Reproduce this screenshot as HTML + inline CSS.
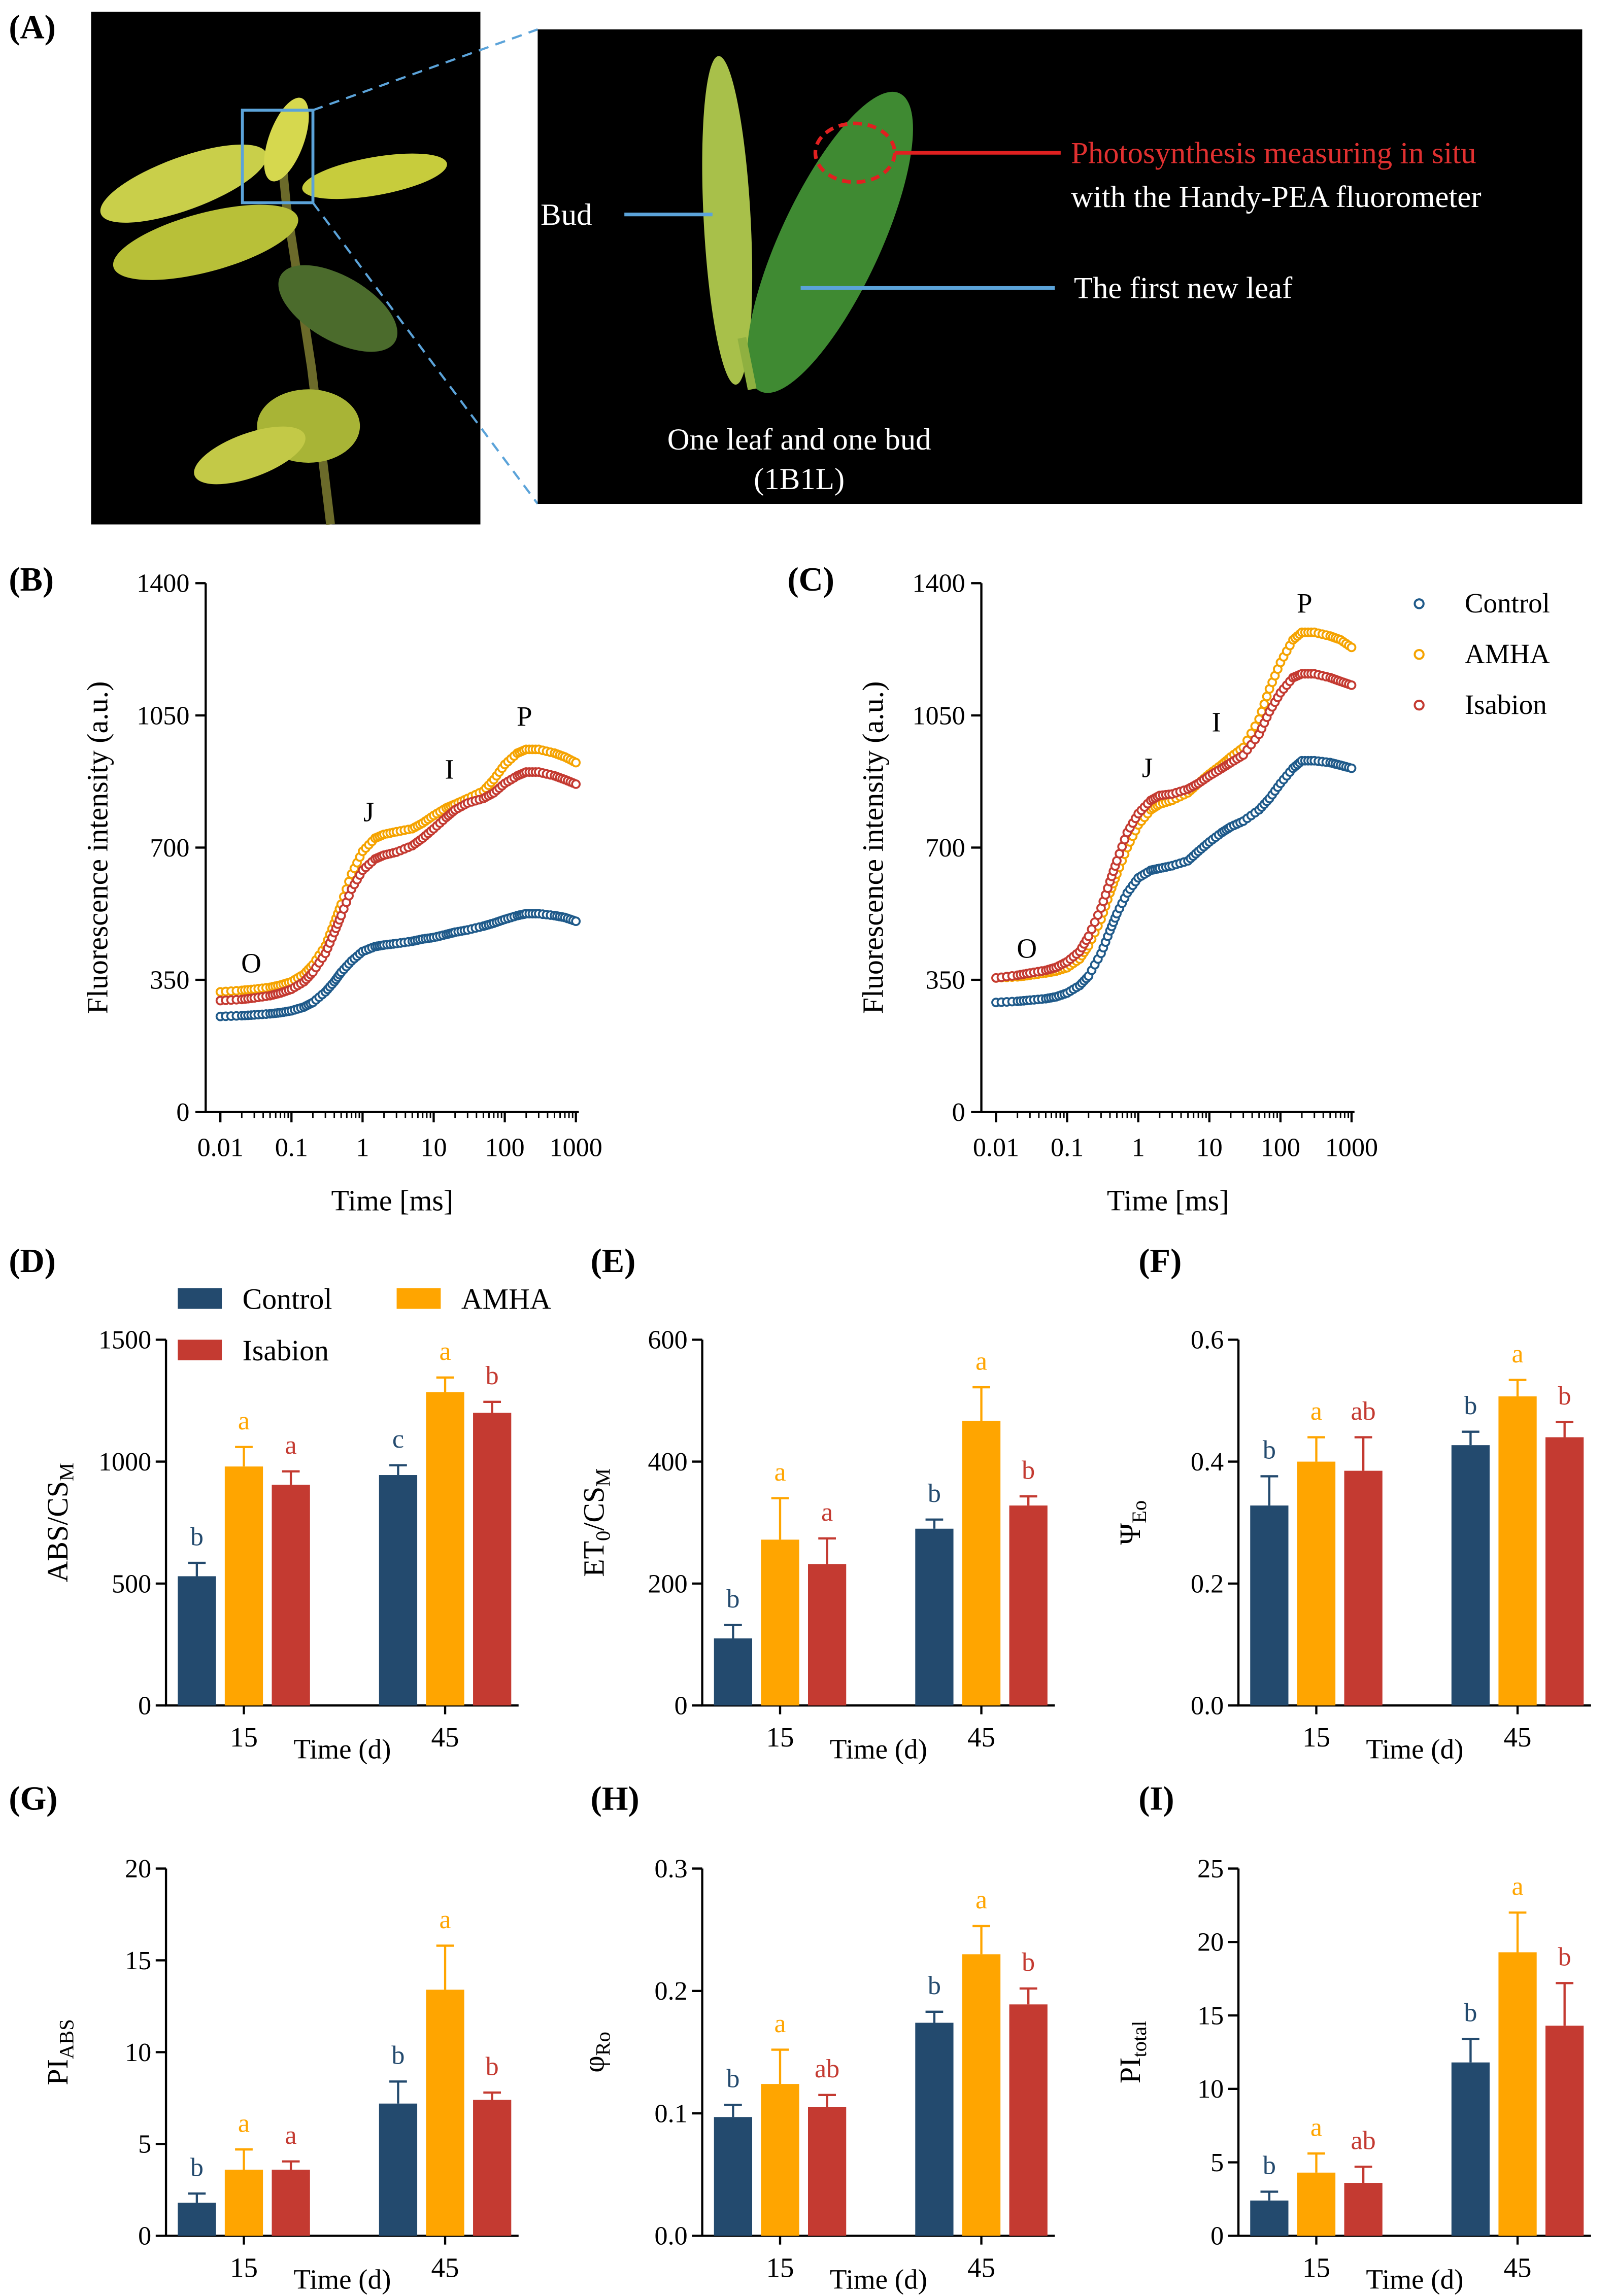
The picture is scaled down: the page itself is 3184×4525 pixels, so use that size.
<!DOCTYPE html>
<html><head><meta charset="utf-8"><style>
html,body{margin:0;padding:0;background:#fff}
svg{display:block;font-family:"Liberation Serif",serif}
</style></head><body>
<svg id="fig" width="3184" height="4525" viewBox="0 0 1100 1563" preserveAspectRatio="none" xmlns="http://www.w3.org/2000/svg">
<g id="panelA">
  <rect x="62" y="8" width="265" height="349" fill="#000"/>
  <g>
    <path d="M225 357 L212 250 L195 140 L190 90" stroke="#6b6a2a" stroke-width="6" fill="none"/>
    <ellipse cx="125" cy="125" rx="60" ry="18" fill="#c9cf4a" transform="rotate(-20 125 125)"/>
    <ellipse cx="255" cy="120" rx="50" ry="13" fill="#c7cc3c" transform="rotate(-10 255 120)"/>
    <ellipse cx="140" cy="165" rx="65" ry="20" fill="#b8c038" transform="rotate(-15 140 165)"/>
    <ellipse cx="195" cy="95" rx="12" ry="30" fill="#d6d84e" transform="rotate(20 195 95)"/>
    <ellipse cx="230" cy="210" rx="45" ry="22" fill="#4b6b2c" transform="rotate(30 230 210)"/>
    <ellipse cx="210" cy="290" rx="35" ry="25" fill="#a8b436"/>
    <ellipse cx="170" cy="310" rx="40" ry="15" fill="#c3c947" transform="rotate(-20 170 310)"/>
  </g>
  <rect x="165" y="75" width="48" height="63" fill="none" stroke="#5ba3d9" stroke-width="2"/>
  <line x1="213" y1="75" x2="366" y2="20" stroke="#5ba3d9" stroke-width="1.5" stroke-dasharray="7,5"/>
  <line x1="213" y1="138" x2="366" y2="343" stroke="#5ba3d9" stroke-width="1.5" stroke-dasharray="7,5"/>
  <rect x="366" y="20" width="711" height="323" fill="#000"/>
  <ellipse cx="495" cy="150" rx="16" ry="112" fill="#a8c04a" transform="rotate(-3 495 150)"/>
  <ellipse cx="565" cy="165" rx="34" ry="112" fill="#3f8a32" transform="rotate(25 565 165)"/>
  <line x1="512" y1="265" x2="505" y2="230" stroke="#8fb040" stroke-width="6"/>
  <ellipse cx="582" cy="104" rx="27" ry="20" fill="none" stroke="#e02020" stroke-width="2.5" stroke-dasharray="6,4"/>
  <line x1="609" y1="104" x2="722" y2="104" stroke="#e02020" stroke-width="2.5"/>
  <line x1="425" y1="146" x2="485" y2="146" stroke="#5ba3d9" stroke-width="2.5"/>
  <line x1="545" y1="196" x2="718" y2="196" stroke="#5ba3d9" stroke-width="2.5"/>
  <text x="368" y="153" fill="#fff" font-size="21">Bud</text>
  <text x="729" y="111" fill="#e03030" font-size="21">Photosynthesis measuring in situ</text>
  <text x="729" y="141" fill="#fff" font-size="21">with the Handy-PEA fluorometer</text>
  <text x="731" y="203" fill="#fff" font-size="21">The first new leaf</text>
  <text x="544" y="306" fill="#fff" font-size="21" text-anchor="middle">One leaf and one bud</text>
  <text x="544" y="333" fill="#fff" font-size="21" text-anchor="middle">(1B1L)</text>
</g>
<g id="labels" font-weight="bold" font-size="23">
  <text x="6" y="26">(A)</text>
  <text x="6" y="402">(B)</text>
  <text x="536" y="402">(C)</text>
  <text x="6" y="866">(D)</text>
  <text x="402" y="866">(E)</text>
  <text x="775" y="866">(F)</text>
  <text x="6" y="1232">(G)</text>
  <text x="402" y="1232">(H)</text>
  <text x="775" y="1232">(I)</text>
</g>
<g id="charts"></g>
</svg>
<script>
const times=[0.01,0.02,0.03,0.05,0.07,0.1,0.15,0.2,0.3,0.4,0.5,0.7,1,1.5,2,3,5,7,10,15,20,30,50,70,100,150,200,300,500,700,1000];
const bControl=[253,255,257,260,263,268,278,290,318,345,370,400,425,438,442,446,452,458,462,470,476,482,492,500,510,520,525,525,520,515,505];
const bAMHA=[318,322,325,330,336,345,365,390,440,500,550,630,690,725,735,742,750,765,785,805,815,830,850,880,920,950,960,960,950,940,925];
const bIsabion=[295,298,302,308,315,325,345,370,420,475,520,590,640,670,680,688,705,725,750,780,800,818,830,845,870,890,900,900,890,880,868];
const cControl=[290,293,296,300,305,315,335,360,420,480,525,580,620,640,645,652,665,690,715,740,755,770,800,830,870,910,930,930,925,918,910];
const cAMHA=[355,358,362,368,373,382,405,440,510,580,630,700,760,800,815,825,845,870,895,920,940,965,1040,1120,1190,1250,1270,1270,1260,1250,1230];
const cIsabion=[355,362,368,375,383,398,425,465,540,610,665,740,790,825,838,842,855,870,890,910,925,945,1000,1060,1110,1150,1160,1160,1150,1140,1130];
const lineYTicks=[0,350,700,1050,1400];
const lineXTicks=[0.01,0.1,1,10,100,1000];
const lineXTickLabels=["0.01","0.1","1","10","100","1000"];
const groups=["15","45"];
const seriesNames=["Control","AMHA","Isabion"];
const colors=["#234a6e","#ffa500","#c43a31"];
const lineColors=["#1f5a8a","#f5a300","#c43a31"];
const dVals=[[530,980,905],[945,1285,1200]], dErr=[[55,80,55],[40,60,45]], dLet=[["b","a","a"],["c","a","b"]], dTicks=[0,500,1000,1500];
const eVals=[[110,272,232],[290,467,328]], eErr=[[22,68,42],[15,55,15]], eLet=[["b","a","a"],["b","a","b"]], eTicks=[0,200,400,600];
const fVals=[[0.328,0.400,0.385],[0.427,0.507,0.440]], fErr=[[0.048,0.04,0.055],[0.022,0.027,0.025]], fLet=[["b","a","ab"],["b","a","b"]], fTicks=[0,0.2,0.4,0.6];
const gVals=[[1.8,3.6,3.6],[7.2,13.4,7.4]], gErr=[[0.5,1.1,0.45],[1.2,2.4,0.4]], gLet=[["b","a","a"],["b","a","b"]], gTicks=[0,5,10,15,20];
const hVals=[[0.097,0.124,0.105],[0.174,0.230,0.189]], hErr=[[0.01,0.028,0.01],[0.009,0.023,0.013]], hLet=[["b","a","ab"],["b","a","b"]], hTicks=[0,0.1,0.2,0.3];
const iVals=[[2.4,4.3,3.6],[11.8,19.3,14.3]], iErr=[[0.6,1.3,1.1],[1.6,2.7,2.9]], iLet=[["b","a","ab"],["b","a","b"]], iTicks=[0,5,10,15,20,25];

const NS="http://www.w3.org/2000/svg";
const root=document.getElementById('charts');
function mk(tag,attrs,parent,text){const e=document.createElementNS(NS,tag);for(const k in attrs)e.setAttribute(k,attrs[k]);if(text!==undefined)e.textContent=text;(parent||root).appendChild(e);return e;}

function lineChart(x0,series,name){
  const g=mk('g',{});
  
  
  const Y0=757,H=360,ymax=1400;
  const xs=t=>x0+10+(Math.log10(t)+2)*48.4;
  const ys=v=>Y0-v/ymax*H;
  const ax=mk('path',{d:`M${x0} ${Y0-H} V${Y0} H${x0+254}`,stroke:'#000','stroke-width':1.5,fill:'none'},g);
  
  
  lineYTicks.forEach(v=>{mk('line',{x1:x0-7,x2:x0,y1:ys(v),y2:ys(v),stroke:'#000','stroke-width':1.5},g);
    const t=mk('text',{x:x0-11,y:ys(v)+6,'font-size':18,'text-anchor':'end'},g,String(v));
    
    });
  lineXTicks.forEach((v,i)=>{mk('line',{x1:xs(v),x2:xs(v),y1:Y0,y2:Y0+7,stroke:'#000','stroke-width':1.5},g);
    for(let k=2;k<10&&v<1000;k++){const xx=xs(v*k);mk('line',{x1:xx,x2:xx,y1:Y0,y2:Y0+4,stroke:'#000','stroke-width':1},g);}
    const t=mk('text',{x:xs(v),y:Y0+30,'font-size':18,'text-anchor':'middle'},g,lineXTickLabels[i]);
    
    });
  series.forEach((s,si)=>{
    const sg=mk('g',{},g);
    
    
    s.forEach((v,i)=>{
      const c=mk('circle',{cx:xs(times[i]),cy:ys(v),r:2.6,fill:'#fff',stroke:lineColors[si],'stroke-width':1.3},sg);
      
      
      if(i<times.length-1){ // extra markers between points along straight segment for visual density
        const n=4;for(let k=1;k<n;k++){const f=k/n;const lt=Math.log10(times[i])*(1-f)+Math.log10(times[i+1])*f;const vv=v*(1-f)+s[i+1]*f;
          mk('circle',{cx:x0+10+(lt+2)*48.4,cy:ys(vv),r:2.6,fill:'#fff',stroke:lineColors[si],'stroke-width':1.3},sg);}
      }
    });
  });
  const yl=mk('text',{x:0,y:0,'font-size':20,'text-anchor':'middle',transform:`translate(${x0-67},577) rotate(-90)`},g,'Fluorescence intensity (a.u.)');
  
  
  const xl=mk('text',{x:x0+127,y:824,'font-size':20,'text-anchor':'middle'},g,'Time [ms]');
  
  
  return g;
}
lineChart(140,[bControl,bAMHA,bIsabion],'ojip-chart-b');
lineChart(668,[cControl,cAMHA,cIsabion],'ojip-chart-c');
[[171,662,'O'],[251,559,'J'],[306,530,'I'],[357,494,'P'],[699,652,'O'],[781,529,'J'],[828,498,'I'],[888,417,'P']].forEach(a=>{
  const t=mk('text',{x:a[0],y:a[1],'font-size':19,'text-anchor':'middle'},root,a[2]);
  
  });
seriesNames.forEach((n,i)=>{
  const y=411+i*34.5;
  const lg=mk('g',{});
  
  
  mk('circle',{cx:966,cy:y,r:3,fill:'#fff',stroke:lineColors[i],'stroke-width':1.4},lg);
  mk('text',{x:997,y:y+6,'font-size':19},lg,n);
});

function barChart(x0,y0,H,ymax,ticks,vals,errs,lets,ylabelHTML,name,labelX){
  const g=mk('g',{});
  
  
  const ys=v=>y0-v/ymax*H;
  const dec=ymax<1?1:0;
  mk('path',{d:`M${x0} ${y0-H} V${y0} H${x0+240}`,stroke:'#000','stroke-width':1.5,fill:'none'},g);
  ticks.forEach(v=>{mk('line',{x1:x0-7,x2:x0,y1:ys(v),y2:ys(v),stroke:'#000','stroke-width':1.5},g);
    const t=mk('text',{x:x0-10,y:ys(v)+6,'font-size':18,'text-anchor':'end'},g,v.toFixed(dec));
    
    });
  const bw=26,gap=6;
  groups.forEach((gn,gi)=>{
    const gx=x0+8+gi*137;
    const cx=gx+bw*1.5+gap;
    mk('line',{x1:cx,x2:cx,y1:y0,y2:y0+6,stroke:'#000','stroke-width':1.5},g);
    const t=mk('text',{x:cx,y:y0+28,'font-size':19,'text-anchor':'middle'},g,gn);
    
    
    vals[gi].forEach((v,si)=>{
      const bx=gx+si*(bw+gap);
      const top=ys(v),et=ys(v+errs[gi][si]);
      mk('line',{x1:bx+bw/2,x2:bx+bw/2,y1:top,y2:et,stroke:colors[si],'stroke-width':1.5},g);
      mk('line',{x1:bx+bw/2-6,x2:bx+bw/2+6,y1:et,y2:et,stroke:colors[si],'stroke-width':1.5},g);
      const r=mk('rect',{x:bx,y:top,width:bw,height:y0-top,fill:colors[si]},g);
      
      
      const l=mk('text',{x:bx+bw/2,y:et-12,'font-size':18,'text-anchor':'middle',fill:colors[si]},g,lets[gi][si]);
      
      
    });
  });
  const xl=mk('text',{x:x0+120,y:y0+36,'font-size':19,'text-anchor':'middle'},g,'Time (d)');
  
  
  const yl=mk('text',{x:0,y:0,'font-size':20,'text-anchor':'middle',transform:`translate(${labelX},${y0-H/2}) rotate(-90)`},g);
  yl.innerHTML=ylabelHTML;
  
  
}
barChart(113,1161,249,1500,dTicks,dVals,dErr,dLet,'ABS/CS<tspan font-size="14" dy="4">M</tspan>','bar-chart-d',46);
barChart(478,1161,249,600,eTicks,eVals,eErr,eLet,'ET<tspan font-size="14" dy="4">0</tspan><tspan dy="-4">/CS</tspan><tspan font-size="14" dy="4">M</tspan>','bar-chart-e',411);
barChart(843,1161,249,0.6,fTicks,fVals,fErr,fLet,'Ψ<tspan font-size="14" dy="4">Eo</tspan>','bar-chart-f',776);
barChart(113,1522,250,20,gTicks,gVals,gErr,gLet,'PI<tspan font-size="14" dy="4">ABS</tspan>','bar-chart-g',46);
barChart(478,1522,250,0.3,hTicks,hVals,hErr,hLet,'φ<tspan font-size="14" dy="4">Ro</tspan>','bar-chart-h',411);
barChart(843,1522,250,25,iTicks,iVals,iErr,iLet,'PI<tspan font-size="14" dy="4">total</tspan>','bar-chart-i',776);
[[121,877,0],[270,877,1],[121,912,2]].forEach(a=>{
  const lg=mk('g',{});
  
  
  mk('rect',{x:a[0],y:a[1],width:30,height:14,fill:colors[a[2]]},lg);
  mk('text',{x:a[0]+44,y:a[1]+14,'font-size':20},lg,seriesNames[a[2]]);
});
</script>
</body></html>
